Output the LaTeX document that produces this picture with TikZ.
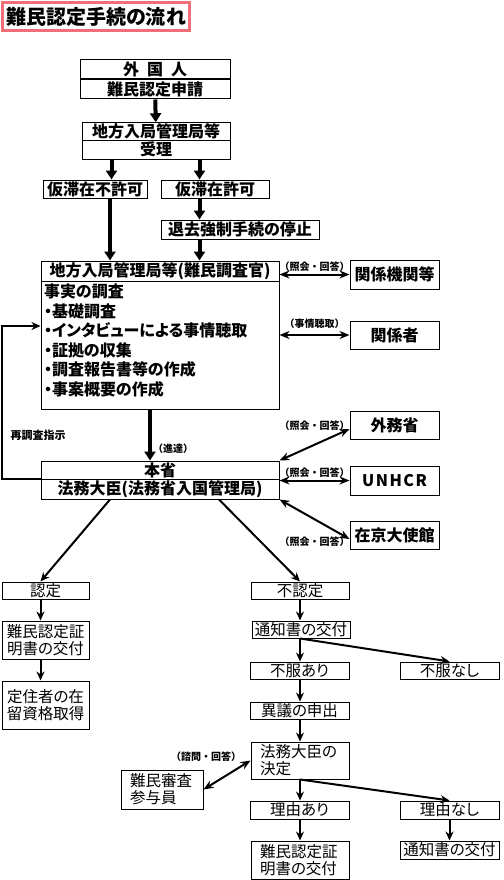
\documentclass[tikz,border=0pt]{standalone}
\usepackage{fontspec}
\setmainfont{Noto Sans CJK JP}[RawFeature=+palt]
\newfontfamily\lblfont{Noto Sans CJK JP}
\usetikzlibrary{arrows.meta, calc}
\definecolor{titlepink}{RGB}{240,110,120}
\newcommand\boxfont{\fontsize{16}{19.5}\selectfont\bfseries}
\newcommand\lowfont{\fontsize{15.5}{17}\selectfont}
\newcommand\notefont{\lblfont\fontsize{10}{12}\selectfont\bfseries}

\begin{document}
\begin{tikzpicture}[x=1pt, y=-1pt,
  box/.style={draw, line width=1pt, inner sep=1pt, font=\boxfont, align=center},
  lowbox/.style={draw, line width=1pt, inner sep=1pt, font=\lowfont, align=center},
  note/.style={font=\notefont, inner sep=1pt},
  bigarr/.style={-{Triangle[length=9pt,width=11pt]}, line width=4pt},
  arr/.style={-{Stealth[length=9pt,width=8pt]}, line width=2pt},
  dblarr/.style={{Stealth[length=10pt,width=8pt]}-{Stealth[length=10pt,width=8pt]}, line width=2pt},
]
\useasboundingbox (0,0) rectangle (503,880);

% title
\node[draw=titlepink, line width=3pt, minimum width=186pt, minimum height=28pt,
      font=\fontsize{20}{24}\selectfont\bfseries] (title) at (96,17) {難民認定手続の流れ};

% application
\node[box, minimum width=150pt, minimum height=19.5pt] (gaikoku) at (155,69.5) {外\hspace{8pt}国\hspace{8pt}人};
\node[box, minimum width=150pt, minimum height=20pt]   (shinsei) at (155,89) {難民認定申請};
\node[box, minimum width=148pt, minimum height=17pt]   (chiho)   at (156,131.5) {地方入局管理局等};
\node[box, minimum width=148pt, minimum height=19pt]   (juri)    at (156,149.5) {受理};
\node[box, minimum width=104pt, minimum height=18pt]   (furika)  at (95,189) {仮滞在不許可};
\node[box, minimum width=108pt, minimum height=18pt]   (kyoka)   at (215,189) {仮滞在許可};
\node[box, minimum width=158pt, minimum height=19pt]   (taikyo)  at (240,229.5) {退去強制手続の停止};

% investigation
\node[box, minimum width=238pt, minimum height=20pt] (chosakan) at (160,271) {地方入局管理局等(難民調査官)};
\node[box, minimum height=128pt, text width=232pt, inner xsep=3pt, align=left, text depth=108pt] (jijitsu) at (160,345)
  {事実の調査\\・基礎調査\\・インタビューによる事情聴取\\・証拠の収集\\・調査報告書等の作成\\・事案概要の作成};
\node[box, minimum width=89pt, minimum height=29pt] (kikan)     at (394.5,274.5) {関係機関等};
\node[box, minimum width=89pt, minimum height=28pt] (kankeisha) at (394.5,335) {関係者};

% ministry
\node[box, minimum width=238pt, minimum height=18pt] (honsho) at (160,470) {本省};
\node[box, minimum width=238pt, minimum height=20pt] (homu)   at (160,489) {法務大臣(法務省入国管理局)};
\node[box, minimum width=89pt, minimum height=28pt] (gaimu)     at (394.5,425) {外務省};
\node[box, minimum width=89pt, minimum height=29pt] (unhcr)     at (394.5,480.5) {U\kern1.5pt N\kern1.5pt H\kern1.5pt C\kern1.5pt R};
\node[box, minimum width=89pt, minimum height=28pt] (taishikan) at (394.5,535) {在京大使館};

% recognised
\node[lowbox, minimum width=87pt, minimum height=17pt] (nintei)  at (45.5,590.5) {認定};
\node[lowbox, minimum width=87pt, minimum height=38pt] (shomeiA) at (45.5,640) {難民認定証\\明書の交付};
\node[lowbox, minimum width=87pt, minimum height=48pt] (teiju)   at (45.5,705) {定住者の在\\留資格取得};

% not recognised
\node[lowbox, minimum width=98pt, minimum height=17pt] (funintei)    at (300,590.5) {不認定};
\node[lowbox, minimum width=98pt, minimum height=17pt] (tsuchiA)     at (301,629.5) {通知書の交付};
\node[lowbox, minimum width=99pt, minimum height=17pt] (fufukuari)   at (299.5,670.5) {不服あり};
\node[lowbox, minimum width=99pt, minimum height=17pt] (fufukunashi) at (449.5,670.5) {不服なし};
\node[lowbox, minimum width=99pt, minimum height=17pt] (igi)         at (299.5,710.5) {異議の申出};
\node[lowbox, minimum height=37pt, text width=80pt, inner xsep=9pt, align=left] (kettei) at (300,760.5) {法務大臣の\\決定};
\node[lowbox, minimum height=39pt, text width=64pt, inner xsep=9pt, align=left] (sanyoin) at (162,789.5) {難民審査\\参与員};
\node[lowbox, minimum width=99pt, minimum height=18pt] (riyuari)   at (299.5,810) {理由あり};
\node[lowbox, minimum width=99pt, minimum height=18pt] (riyunashi) at (449.5,810) {理由なし};
\node[lowbox, minimum height=38pt, text width=80pt, inner xsep=9pt, align=left] (shomeiB) at (300,860) {難民認定証\\明書の交付};
\node[lowbox, minimum width=99pt, minimum height=18pt] (tsuchiB)   at (449.5,850) {通知書の交付};

% upper flow
\draw[bigarr] (shinsei) -- (chiho);
\draw[bigarr] ([xshift=30pt]juri.south west) -- ([xshift=30pt]juri.south west |- furika.north);
\draw[bigarr] ([xshift=118pt]juri.south west) -- ([xshift=118pt]juri.south west |- kyoka.north);
\draw[bigarr] ([xshift=39pt]kyoka.south west) -- ([xshift=39pt]kyoka.south west |- taikyo.north);
\draw[bigarr] ([xshift=15pt]furika.south) -- ([xshift=15pt]furika.south |- chosakan.north);
\draw[bigarr] ([xshift=39pt]taikyo.south west) -- ([xshift=39pt]taikyo.south west |- chosakan.north);
\draw[bigarr] ([xshift=-10pt]jijitsu.south) -- node[note, right, pos=.77] {（進達）} ([xshift=-10pt]honsho.north);

% inquiries
\draw[dblarr] (kikan.west -| chosakan.east) -- node[note, above=1pt] {（照会・回答）} (kikan.west);
\draw[dblarr] (kankeisha.west -| jijitsu.east) -- node[note, above=4pt] {（事情聴取）} (kankeisha.west);
\draw[dblarr] (honsho.north east) -- node[note, above=12pt] {（照会・回答）} ([yshift=-4pt]gaimu.west);
\draw[dblarr] (unhcr.west -| honsho.east) -- node[note, above=1pt] {（照会・回答）} (unhcr.west);
\draw[dblarr] (homu.south east) -- node[note, below=16pt] {（照会・回答）} ([yshift=-4pt]taishikan.west);

% re-examination
\draw[arr] (homu.north west) -- ++(-39,0) |- ([yshift=19pt]jijitsu.west);
\node[note, font=\lblfont\fontsize{11}{13}\selectfont\bfseries] (saichosa) at (38,435) {再調査指示};

% decision branches
\draw[arr] ([xshift=-50pt]homu.south) -- ([xshift=-5pt]nintei.north);
\draw[arr] ([xshift=59pt]homu.south) -- (funintei.north);
\draw[arr] ([xshift=-5pt]nintei.south) -- ([xshift=-5pt]shomeiA.north);
\draw[arr] ([xshift=-5pt]shomeiA.south) -- ([xshift=-5pt]teiju.north);
\draw[arr] (funintei) -- (funintei |- tsuchiA.north);
\draw[arr] (tsuchiA.south -| funintei) -- (fufukuari.north -| funintei);
\draw[arr] (tsuchiA.south -| funintei) -- (fufukunashi.north);
\draw[arr] (fufukuari.south -| funintei) -- (igi.north -| funintei);
\draw[arr] (igi.south -| funintei) -- (kettei.north);
\draw[dblarr] (sanyoin.east) -- node[note, anchor=south east, pos=.5, xshift=16pt, yshift=11pt] {（諮問・回答）} (kettei.west);
\draw[arr] (kettei.south) -- (riyuari.north -| kettei.south);
\draw[arr] (kettei.south) -- (riyunashi.north);
\draw[arr] (riyuari.south -| kettei.south) -- (shomeiB.north);
\draw[arr] (riyunashi) -- (tsuchiB);

\end{tikzpicture}
\end{document}
